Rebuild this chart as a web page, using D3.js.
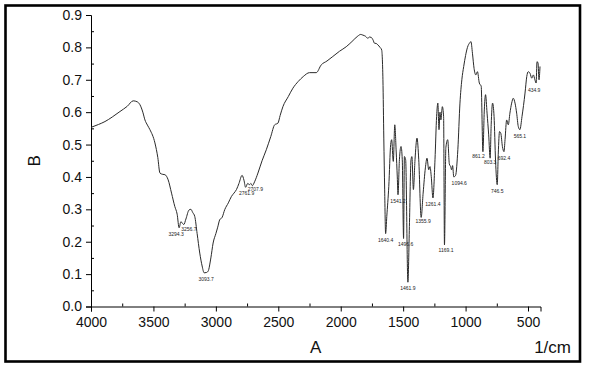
<!DOCTYPE html>
<html lang="en">
<head>
<meta charset="UTF-8">
<title>spectrum</title>
<script src="https://cdn.jsdelivr.net/npm/d3@7"></script>
<style>
  body { margin: 0; background: #fff; }
  svg { display: block; font-family: 'Liberation Sans', Arial, sans-serif; }
</style>
</head>
<body>
<svg></svg>
<script>
// spectrum (wavenumber in 1/cm, value B)
var wavenumber = [4000, 3940, 3888, 3830, 3768, 3710, 3662, 3630, 3608, 3585, 3568, 3548, 3528, 3488, 3465, 3448, 3425, 3408, 3382, 3355,
  3329, 3310, 3294.3, 3280, 3270, 3256.7, 3240, 3215, 3200, 3185, 3169, 3150, 3129, 3110, 3093.7, 3075, 3062, 3040, 3022, 3000,
  2985, 2969, 2950, 2929, 2900, 2875, 2855, 2835, 2815, 2790, 2775, 2761.9, 2745, 2730, 2720, 2707.9, 2690, 2663, 2630, 2596,
  2560, 2529, 2503, 2485, 2463, 2420, 2383, 2340, 2300, 2250, 2196, 2156, 2110, 2063, 2010, 1956, 1910, 1863, 1840, 1823,
  1800, 1783, 1770, 1756, 1740, 1730, 1715, 1703, 1685, 1672, 1662, 1655, 1648, 1640.4, 1631, 1615, 1600, 1592, 1579, 1567,
  1556, 1547, 1541.2, 1530, 1517, 1507, 1496.6, 1490, 1480, 1461.9, 1450, 1437, 1430, 1418, 1405, 1389, 1375, 1355.9, 1340, 1322,
  1309, 1295, 1285, 1275, 1261.4, 1245, 1232, 1222, 1213, 1205, 1198, 1186, 1176, 1169.1, 1158, 1143, 1130, 1120, 1112, 1104,
  1094.6, 1080, 1062, 1045, 1030, 1015, 1000, 985, 965, 957, 945, 932, 918, 905, 890, 875, 861.2, 850, 840, 828,
  815, 803.3, 795, 784, 772, 760, 746.5, 738, 728, 718, 705, 692.4, 684, 671, 658, 645, 631, 618, 604, 591,
  578, 565.1, 548, 524, 510, 498, 484, 470, 457, 445, 434.9, 428, 420, 412, 404];
var absorbance = [0.553, 0.562, 0.571, 0.585, 0.602, 0.618, 0.635, 0.632, 0.623, 0.600, 0.576, 0.560, 0.546, 0.505, 0.460, 0.412, 0.408, 0.407, 0.391, 0.350,
  0.309, 0.285, 0.243, 0.262, 0.258, 0.253, 0.270, 0.298, 0.300, 0.290, 0.278, 0.225, 0.165, 0.125, 0.104, 0.105, 0.109, 0.150, 0.196, 0.225,
  0.245, 0.268, 0.275, 0.299, 0.320, 0.340, 0.350, 0.361, 0.380, 0.405, 0.390, 0.368, 0.380, 0.376, 0.380, 0.373, 0.385, 0.412, 0.450, 0.484,
  0.525, 0.561, 0.566, 0.590, 0.617, 0.648, 0.674, 0.695, 0.710, 0.722, 0.722, 0.746, 0.758, 0.772, 0.788, 0.802, 0.818, 0.835, 0.840, 0.838,
  0.834, 0.828, 0.832, 0.831, 0.822, 0.813, 0.812, 0.808, 0.800, 0.792, 0.700, 0.520, 0.360, 0.225, 0.278, 0.371, 0.500, 0.515, 0.448, 0.561,
  0.480, 0.400, 0.345, 0.453, 0.494, 0.453, 0.210, 0.463, 0.453, 0.075, 0.247, 0.453, 0.463, 0.361, 0.453, 0.520, 0.453, 0.275, 0.350, 0.428,
  0.458, 0.422, 0.432, 0.402, 0.335, 0.453, 0.587, 0.628, 0.546, 0.600, 0.576, 0.617, 0.587, 0.190, 0.490, 0.515, 0.440, 0.432, 0.422, 0.435,
  0.400, 0.405, 0.484, 0.628, 0.700, 0.741, 0.775, 0.800, 0.815, 0.818, 0.782, 0.735, 0.715, 0.725, 0.690, 0.680, 0.478, 0.607, 0.654, 0.597,
  0.530, 0.458, 0.561, 0.628, 0.587, 0.450, 0.376, 0.474, 0.540, 0.535, 0.494, 0.478, 0.515, 0.576, 0.561, 0.597, 0.628, 0.643, 0.628, 0.597,
  0.556, 0.546, 0.587, 0.659, 0.710, 0.725, 0.720, 0.705, 0.715, 0.700, 0.690, 0.756, 0.752, 0.700, 0.741];

var peakLabels = ['3294.3', '3256.7', '3093.7', '2761.9', '2707.9', '1640.4', '1541.2', '1496.6', '1461.9', '1355.9',
  '1261.4', '1169.1', '1094.6', '861.2', '803.3', '746.5', '692.4', '565.1', '434.9'];

var xTicks = [4000, 3500, 3000, 2500, 2000, 1500, 1000, 500];
var xMinor = [3750, 3250, 2750, 2250, 1750, 1250, 750];
var yTicks = [0.0, 0.1, 0.2, 0.3, 0.4, 0.5, 0.6, 0.7, 0.8, 0.9];
var yMinor = [0.05, 0.15, 0.25, 0.35, 0.45, 0.55, 0.65, 0.75, 0.85];

// label nudges, the plot software put them a bit off the peak
var nudge = {
  '3294.3': [-3, 8], '3256.7': [5, 6], '3093.7': [2, 8], '2761.9': [1, 8], '2707.9': [3, 5],
  '1496.6': [2, 8], '1355.9': [2, 6], '1169.1': [1.5, 7], '1094.6': [5.5, 8], '861.2': [-4.5, 6],
  '803.3': [0, 6], '434.9': [-2, 9]
};

var W = 590, H = 371;
var svg = d3.select('svg').attr('width', W).attr('height', H);

var x = d3.scaleLinear().domain([4000, 400]).range([91, 540.5]);
var y = d3.scaleLinear().domain([0, 0.9]).range([306.5, 15]);

// frame
svg.append('rect')
  .attr('x', 5.5).attr('y', 5.5)
  .attr('width', 574.5).attr('height', 356)
  .attr('fill', 'none').attr('stroke', '#000').attr('stroke-width', 2.6);

// axes
var xAxis = svg.append('g')
  .attr('transform', 'translate(0,' + y(0) + ')')
  .call(d3.axisBottom(x).tickValues(xTicks).tickFormat(d3.format('d'))
    .tickSizeOuter(0).tickSize(5).tickPadding(5.5));
svg.append('g')
  .attr('transform', 'translate(0,' + y(0) + ')')
  .call(d3.axisBottom(x).tickValues(xMinor).tickFormat('').tickSizeOuter(0).tickSize(-3))
  .select('.domain').remove();

var yAxis = svg.append('g')
  .attr('transform', 'translate(' + x(4000) + ',0)')
  .call(d3.axisLeft(y).tickValues(yTicks).tickFormat(d3.format('.1f'))
    .tickSizeOuter(0).tickSize(5).tickPadding(4));
svg.append('g')
  .attr('transform', 'translate(' + x(4000) + ',0)')
  .call(d3.axisLeft(y).tickValues(yMinor).tickFormat('').tickSizeOuter(0).tickSize(-3))
  .select('.domain').remove();

svg.selectAll('.tick text')
  .attr('font-family', "'Liberation Sans', Arial, sans-serif")
  .attr('font-size', 14)
  .attr('fill', '#111');
svg.selectAll('.domain, .tick line').attr('stroke', '#000').attr('stroke-width', 1);

// axis titles
svg.append('text')
  .attr('x', (x(4000) + x(400)) / 2).attr('y', 353)
  .attr('text-anchor', 'middle').attr('font-size', 17).attr('fill', '#111')
  .text('A');
svg.append('text')
  .attr('transform', 'translate(40,' + ((y(0) + y(0.9)) / 2) + ') rotate(-90)')
  .attr('text-anchor', 'middle').attr('font-size', 17).attr('fill', '#111')
  .text('B');
svg.append('text')
  .attr('x', 571).attr('y', 353)
  .attr('text-anchor', 'end').attr('font-size', 17).attr('fill', '#111')
  .text('1/cm');

// spectrum
var pts = wavenumber.map(function (w, i) { return [w, absorbance[i]]; });
var line = d3.line()
  .x(function (d) { return x(d[0]); })
  .y(function (d) { return y(d[1]); })
  .curve(d3.curveMonotoneX);

svg.append('path')
  .datum(pts)
  .attr('fill', 'none')
  .attr('stroke', '#2a2a2a')
  .attr('stroke-width', 1)
  .attr('stroke-linejoin', 'round')
  .attr('d', line);

// peak labels
svg.selectAll('.peak')
  .data(peakLabels)
  .enter().append('text')
  .attr('class', 'peak')
  .attr('x', function (d) {
    var n = nudge[d] || [0, 8];
    return x(+d) + n[0];
  })
  .attr('y', function (d) {
    var n = nudge[d] || [0, 8];
    var i = wavenumber.indexOf(+d);
    return y(absorbance[i]) + n[1];
  })
  .attr('text-anchor', 'middle')
  .attr('font-size', 5)
  .attr('fill', '#222')
  .text(function (d) { return d; });
</script>
</body>
</html>
